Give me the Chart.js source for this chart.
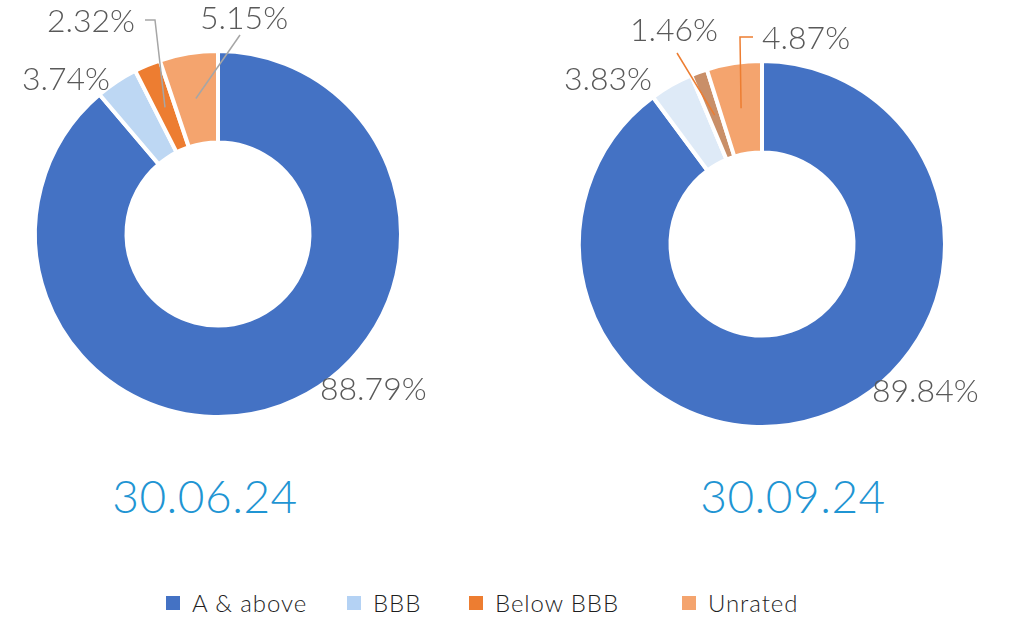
<!DOCTYPE html>
<html>
<head>
<meta charset="utf-8">
<script src="https://cdn.jsdelivr.net/npm/chart.js@4.4.1/dist/chart.umd.min.js"></script>
<style>
  html, body { margin: 0; padding: 0; background: #fff; }
  body { width: 1010px; height: 618px; position: relative; overflow: hidden; font-family: 'Lato', 'Open Sans', sans-serif; }
  .box { position: absolute; top: 0; width: 505px; height: 460px; }
  .date { position: absolute; top: 468px; font-size: 46px; font-weight: 300; color: #1f95d3; letter-spacing: 0.5px; transform: translateX(-50%); white-space: nowrap; }
  #legend { position: absolute; left: 0; top: 588px; width: 1010px; height: 30px; font-size: 24px; font-weight: 300; color: #1f1f1f; letter-spacing: 0.9px; }
  #legend span.item { position: absolute; top: 0; display: flex; align-items: center; white-space: nowrap; }
  #legend i { display: inline-block; width: 14px; height: 14px; margin-right: 12px; }
</style>
</head>
<body>
<div class="box" style="left:0"><canvas id="c1" width="505" height="460"></canvas></div>
<div class="box" style="left:505px"><canvas id="c2" width="505" height="460"></canvas></div>
<div class="date" id="d1" style="left:205px"></div>
<div class="date" id="d2" style="left:793px"></div>
<div id="legend"></div>
<script>
// data
const categories = ['A & above', 'BBB', 'Below BBB', 'Unrated'];
const dates = ['30.06.24', '30.09.24'];
const share0624 = [88.79, 3.74, 2.32, 5.15];
const share0924 = [89.84, 3.83, 1.46, 4.87];

const legendColors = ['#4472c4', '#b4d2f4', '#ed7d31', '#f4a46e'];
const colors0624 = ['#4472c4', '#bdd7f3', '#ed7d31', '#f4a46e'];
const colors0924 = ['#4472c4', '#deeaf7', '#c98f68', '#f4a46e'];

// legend item left edges (px)
const legendX = [166, 347, 469, 682];

// label placement relative to the doughnut centre (text anchor + leader line points)
const labels0624 = [
  { dx: 102, dy: 156, align: 'left' },
  { dx: -108, dy: -154, align: 'right' },
  { dx: -83, dy: -212, align: 'right', line: [[-73, -214], [-63, -214]] },
  { dx: -18, dy: -215, align: 'left', line: [[22, -199]] }
];
const labels0924 = [
  { dx: 110, dy: 148, align: 'left' },
  { dx: -110, dy: -164, align: 'right' },
  { dx: -44, dy: -213, align: 'right', line: [[-85, -191]] },
  { dx: 0, dy: -205, align: 'left', line: [[-9, -207], [-22, -207]] }
];

const labelPlugin = {
  id: 'pctLabels',
  afterDatasetsDraw(chart, args, opts) {
    const ctx = chart.ctx;
    const arcs = chart.getDatasetMeta(0).data;
    const values = chart.data.datasets[0].data;
    ctx.save();
    arcs.forEach((arc, i) => {
      const cfg = opts.items[i];
      const cx = arc.x, cy = arc.y;
      const mid = (arc.startAngle + arc.endAngle) / 2;
      const r = (arc.innerRadius + arc.outerRadius) / 2;
      if (cfg.line) {
        ctx.strokeStyle = opts.lineColor;
        ctx.lineWidth = 1.5;
        ctx.beginPath();
        cfg.line.forEach((p, k) => {
          if (k === 0) ctx.moveTo(cx + p[0], cy + p[1]);
          else ctx.lineTo(cx + p[0], cy + p[1]);
        });
        ctx.lineTo(cx + Math.cos(mid) * r, cy + Math.sin(mid) * r);
        ctx.stroke();
      }
      ctx.fillStyle = '#595959';
      ctx.font = '300 32px Lato, "Open Sans", sans-serif';
      ctx.textAlign = cfg.align;
      ctx.textBaseline = 'middle';
      ctx.fillText(values[i].toFixed(2) + '%', cx + cfg.dx, cy + cfg.dy);
    });
    ctx.restore();
  }
};

function makeChart(id, values, colors, items, lineColor, padding) {
  return new Chart(document.getElementById(id), {
    type: 'doughnut',
    data: {
      labels: categories,
      datasets: [{
        data: values,
        backgroundColor: colors,
        borderColor: '#ffffff',
        borderWidth: 4,
        hoverOffset: 0
      }]
    },
    options: {
      responsive: false,
      animation: false,
      radius: 183,
      cutout: '50%',
      layout: { padding: padding },
      events: [],
      plugins: {
        legend: { display: false },
        tooltip: { enabled: false },
        pctLabels: { items: items, lineColor: lineColor }
      }
    },
    plugins: [labelPlugin]
  });
}

makeChart('c1', share0624, colors0624, labels0624, '#a6a6a6', { left: 0, right: 69, top: 8, bottom: 0 });
makeChart('c2', share0924, colors0924, labels0924, '#ed7d31', { left: 9, right: 0, top: 28, bottom: 0 });

document.getElementById('d1').textContent = dates[0];
document.getElementById('d2').textContent = dates[1];

// shared legend
const legend = document.getElementById('legend');
categories.forEach((name, i) => {
  const item = document.createElement('span');
  item.className = 'item';
  item.style.left = legendX[i] + 'px';
  const sw = document.createElement('i');
  sw.style.background = legendColors[i];
  item.appendChild(sw);
  item.appendChild(document.createTextNode(name));
  legend.appendChild(item);
});
</script>
</body>
</html>
